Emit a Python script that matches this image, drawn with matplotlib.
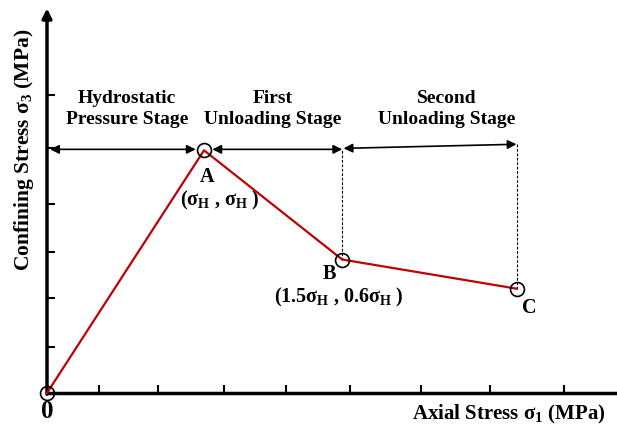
import matplotlib
matplotlib.use("Agg")
import matplotlib.pyplot as plt

plt.rcParams["font.family"] = ["Liberation Serif", "DejaVu Serif"]
plt.rcParams["font.weight"] = "bold"
plt.rcParams["mathtext.fontset"] = "custom"
plt.rcParams["mathtext.rm"] = "Liberation Serif:bold"
plt.rcParams["mathtext.it"] = "Liberation Serif:bold"
plt.rcParams["mathtext.bf"] = "Liberation Serif:bold"

# stress path (schematic, in units of sigma_H)
path_x = [0.0, 1.0, 1.88, 2.99]
path_y = [0.0, 1.0, 0.55, 0.43]
point_names = ["A", "B", "C"]
point_coords = [r"($\sigma_{\mathrm{H}}$ , $\sigma_{\mathrm{H}}$ )",
                r"(1.5$\sigma_{\mathrm{H}}$ , 0.6$\sigma_{\mathrm{H}}$ )",
                ""]

x_ticks = [0.33, 0.71, 1.13, 1.52, 1.93, 2.38, 2.82, 3.29]
y_ticks = [0.19, 0.39, 0.58, 0.78, 1.01, 1.23]

stage_names = ["Hydrostatic\nPressure Stage", "First\nUnloading Stage", "Second\nUnloading Stage"]
stage_x0 = [0.02, 1.0, 1.88]
stage_x1 = [1.0, 1.88, 2.99]
stage_y0 = [1.004, 1.004, 1.008]
stage_y1 = [1.004, 1.004, 1.025]

fig = plt.figure(figsize=(6.17, 4.28), dpi=100)
ax = fig.add_axes([47 / 617, 35 / 428, 1 - 47 / 617, (393 - 12) / 428])
ax.set_xlim(0, 3.63)
ax.set_ylim(0, 1.57)

for s in ["top", "right", "left"]:
    ax.spines[s].set_visible(False)
ax.spines["bottom"].set_linewidth(2.5)
ax.spines["bottom"].set_capstyle("butt")

# y axis with arrow
ax.annotate("", xy=(0, 1.585), xytext=(0, -0.005), xycoords="data",
            arrowprops=dict(arrowstyle="-|>", lw=2.5, color="black",
                            mutation_scale=14, shrinkA=0, shrinkB=0),
            annotation_clip=False)

ax.set_xticks(x_ticks)
ax.set_yticks(y_ticks)
ax.set_xticklabels([])
ax.set_yticklabels([])
ax.tick_params(direction="in", length=6, width=1.5)

# red path
ax.plot(path_x, path_y, color="#C00000", lw=1.6, zorder=3, clip_on=False)
ax.plot(path_x, path_y, "o", ms=10, mfc="none", mec="black", mew=1.2,
        zorder=4, clip_on=False)

# stage arrows
shrink_end = [6, 0, 0]
shrink_start = [0, 6, 1]
text_shift = [0.0, 0.0, 0.11]
for x0, x1, y0, y1, name, sa, sb, dx in zip(stage_x0, stage_x1, stage_y0, stage_y1,
                                            stage_names, shrink_start, shrink_end, text_shift):
    ax.annotate("", xy=(x1, y1), xytext=(x0, y0),
                arrowprops=dict(arrowstyle="<|-|>", lw=1.2, color="black",
                                mutation_scale=13, shrinkA=sa, shrinkB=sb))
    ax.text((x0 + x1) / 2 + dx, 1.17, name, ha="center", va="center",
            fontsize=14, fontweight="bold", linespacing=1.3)

# dashed verticals at B and C
for i in [2, 3]:
    ax.plot([path_x[i], path_x[i]], [path_y[i], stage_y1[i - 1] if i == 3 else 1.004],
            color="black", lw=0.8, ls=(0, (2.5, 1.5)), zorder=2)

# point labels
ax.text(path_x[1] + 0.02, path_y[1] - 0.11, point_names[0], ha="center", va="center", fontsize=14.5)
ax.text(path_x[1] + 0.10, path_y[1] - 0.205, point_coords[0], ha="center", va="center", fontsize=14.5)
ax.text(path_x[2] - 0.08, path_y[2] - 0.06, point_names[1], ha="center", va="center", fontsize=14.5)
ax.text(path_x[2] - 0.02, path_y[2] - 0.155, point_coords[1], ha="center", va="center", fontsize=14.5)
ax.text(path_x[3] + 0.08, path_y[3] - 0.08, point_names[2], ha="center", va="center", fontsize=14.5)

fig.text(47 / 617, 1 - 411 / 428, "0", ha="center", va="center", fontsize=18, fontweight="bold")
fig.text(509 / 617, 1 - 414 / 428, r"Axial Stress $\sigma_1$ (MPa)", ha="center", va="center",
         fontsize=15, fontweight="bold")
fig.text(24 / 617, 1 - 150 / 428, r"Confining Stress $\sigma_3$ (MPa)", ha="center", va="center",
         fontsize=15.5, fontweight="bold", rotation=90)

fig.savefig("out.png", dpi=100)
